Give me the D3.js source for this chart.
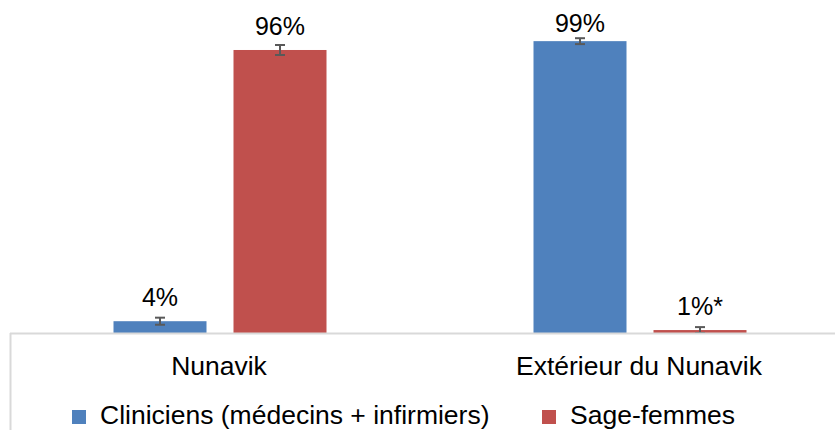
<!DOCTYPE html>
<html><head><meta charset="utf-8">
<script src="https://cdn.jsdelivr.net/npm/d3@7"></script>
<style>body{margin:0;background:#fff}svg{display:block}text{font-family:"Liberation Sans",Arial,sans-serif;fill:#000}</style>
</head><body><svg id="c" width="835" height="430"></svg>
<script>
const categories = ["Nunavik", "Extérieur du Nunavik"];
const seriesNames = ["Cliniciens (médecins + infirmiers)", "Sage-femmes"];
const seriesColors = ["#4f81bd", "#c0504d"];
const clinicienValues = [4, 99];
const sageFemmeValues = [96, 1];
const clinicienErrors = [1.2, 1.0];
const sageFemmeErrors = [1.7, 1.0];
const valueLabels = [["4%", "99%"], ["96%", "1%*"]];

const svg = d3.select("#c");
const x0 = d3.scaleBand().domain(categories).range([10, 850]).padding(0);
const x1 = d3.scaleBand().domain(seriesNames).range([-106.5, 106.5]).paddingInner(0.225).paddingOuter(0);
const y = d3.scaleLinear().domain([0, 100]).range([333, 38.2]);

const data = [];
seriesNames.forEach((s, si) => {
  const vals = si === 0 ? clinicienValues : sageFemmeValues;
  const errs = si === 0 ? clinicienErrors : sageFemmeErrors;
  categories.forEach((c, ci) => {
    data.push({s, si, c, v: vals[ci], e: errs[ci], label: valueLabels[si][ci]});
  });
});
const cx = d => x0(d.c) + x0.bandwidth() / 2 + x1(d.s);

svg.selectAll("rect.bar").data(data).join("rect").attr("class", "bar")
  .attr("x", d => cx(d)).attr("width", x1.bandwidth())
  .attr("y", d => y(d.v)).attr("height", d => y(0) - y(d.v))
  .attr("fill", d => seriesColors[d.si]);

// error bars
const eb = svg.selectAll("g.err").data(data).join("g").attr("class", "err")
  .attr("stroke", "#595959").attr("stroke-width", 2);
eb.append("line").attr("x1", d => cx(d) + x1.bandwidth() / 2).attr("x2", d => cx(d) + x1.bandwidth() / 2)
  .attr("y1", d => y(d.v + d.e)).attr("y2", d => y(Math.max(0, d.v - d.e)));
eb.append("line").attr("x1", d => cx(d) + x1.bandwidth() / 2 - 5).attr("x2", d => cx(d) + x1.bandwidth() / 2 + 5)
  .attr("y1", d => y(d.v + d.e)).attr("y2", d => y(d.v + d.e));
eb.append("line").attr("x1", d => cx(d) + x1.bandwidth() / 2 - 5).attr("x2", d => cx(d) + x1.bandwidth() / 2 + 5)
  .attr("y1", d => y(Math.max(0, d.v - d.e))).attr("y2", d => y(Math.max(0, d.v - d.e)));

// value labels
svg.selectAll("text.val").data(data).join("text").attr("class", "val")
  .attr("x", d => cx(d) + x1.bandwidth() / 2)
  .attr("y", d => Math.max(y(d.v) - 15, 32))
  .attr("text-anchor", "middle").style("font-size", "25px")
  .text(d => d.label);

// frame / axis
svg.append("line").attr("x1", 10).attr("x2", 835).attr("y1", 333.5).attr("y2", 333.5)
  .attr("stroke", "#d9d9d9").attr("stroke-width", 2);
svg.append("line").attr("x1", 10.5).attr("x2", 10.5).attr("y1", 333).attr("y2", 430)
  .attr("stroke", "#d9d9d9").attr("stroke-width", 2);

// category labels
svg.selectAll("text.cat").data(categories).join("text").attr("class", "cat")
  .attr("x", d => x0(d) + x0.bandwidth() / 2 - 1).attr("y", 375)
  .attr("text-anchor", "middle").style("font-size", "26.5px").text(d => d);

// legend
const legX = [72, 542];
const lg = svg.selectAll("g.leg").data(seriesNames).join("g").attr("class", "leg")
  .attr("transform", (d, i) => `translate(${legX[i]},0)`);
lg.append("rect").attr("x", 0).attr("y", 410).attr("width", 14).attr("height", 14)
  .attr("fill", (d, i) => seriesColors[i]);
lg.append("text").attr("x", 28).attr("y", 424).style("font-size", "26.5px").text(d => d);
</script></body></html>
